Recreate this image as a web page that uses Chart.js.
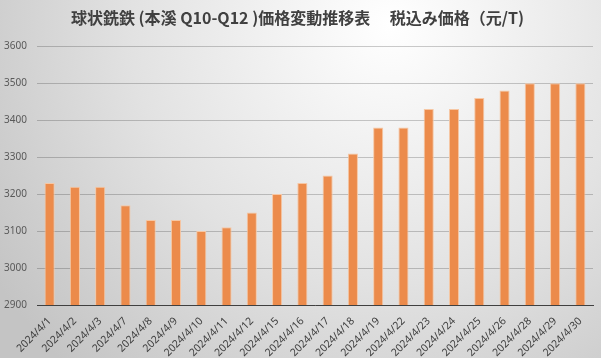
<!DOCTYPE html>
<html>
<head>
<meta charset="utf-8">
<script src="https://cdn.jsdelivr.net/npm/chart.js@4"></script>
<style>
  html, body { margin: 0; padding: 0; background: #fff; }
  #chart { display: block; }
</style>
</head>
<body>
<canvas id="chart" width="601" height="358"></canvas>
<script>
// Dates of each price quote
const dates = [
  '2024/4/1', '2024/4/2', '2024/4/3', '2024/4/7', '2024/4/8', '2024/4/9',
  '2024/4/10', '2024/4/11', '2024/4/12', '2024/4/15', '2024/4/16', '2024/4/17',
  '2024/4/18', '2024/4/19', '2024/4/22', '2024/4/23', '2024/4/24', '2024/4/25',
  '2024/4/26', '2024/4/28', '2024/4/29', '2024/4/30'
];

// Price incl. tax (yuan / ton)
const prices = [
  3230, 3220, 3220, 3170, 3130, 3130,
  3100, 3110, 3150, 3200, 3230, 3250,
  3310, 3380, 3380, 3430, 3430, 3460,
  3480, 3500, 3500, 3500
];

const yTicks = [2900, 3000, 3100, 3200, 3300, 3400, 3500, 3600];

const chartTitle = '球状銑鉄 (本溪 Q10-Q12 )価格変動推移表　 税込み価格（元/T)';

// paint the grey radial backdrop like the spreadsheet chart area
const backdrop = {
  id: 'backdrop',
  beforeDraw(chart) {
    const ctx = chart.ctx;
    const w = chart.width, h = chart.height;
    ctx.save();
    const g = ctx.createRadialGradient(390, 25, 0, 390, 25, 470);
    g.addColorStop(0, '#ffffff');
    g.addColorStop(0.55, '#e2e2e2');
    g.addColorStop(1, '#c4c4c4');
    ctx.fillStyle = g;
    ctx.fillRect(0, 0, w, h);
    ctx.restore();
  }
};

const ctx = document.getElementById('chart').getContext('2d');
new Chart(ctx, {
  type: 'bar',
  data: {
    labels: dates,
    datasets: [{
      data: prices,
      backgroundColor: '#EC8B4B',
      borderColor: '#F6C7A4',
      borderWidth: 1,
      barPercentage: 0.4,
      categoryPercentage: 1.0
    }]
  },
  options: {
    responsive: false,
    animation: false,
    layout: { padding: { left: 2, right: 8, top: 0, bottom: 0 } },
    plugins: {
      legend: { display: false },
      tooltip: { enabled: false },
      title: {
        display: true,
        text: chartTitle,
        color: '#404040',
        font: { family: '"Noto Sans CJK JP", "Noto Sans", sans-serif', size: 16, weight: 'bold' },
        padding: { top: 8, bottom: 19 }
      }
    },
    scales: {
      x: {
        grid: { display: false },
        border: { display: true, color: '#404040', width: 1 },
        afterFit: axis => { axis.height = 53; },
        ticks: {
          color: '#404040',
          font: { family: '"Noto Sans", sans-serif', size: 10.5 },
          maxRotation: 45,
          minRotation: 45,
          autoSkip: false,
          padding: 2
        }
      },
      y: {
        min: 2900,
        max: 3600,
        afterBuildTicks: axis => { axis.ticks = yTicks.map(v => ({ value: v })); },
        afterFit: axis => { axis.width = 35; },
        border: { display: false },
        grid: { color: 'rgba(0,0,0,0.2)', drawTicks: false },
        ticks: {
          color: '#595959',
          font: { family: '"Noto Sans", sans-serif', size: 10 },
          padding: 10,
          callback: v => String(v)
        }
      }
    }
  },
  plugins: [backdrop]
});
</script>
</body>
</html>
